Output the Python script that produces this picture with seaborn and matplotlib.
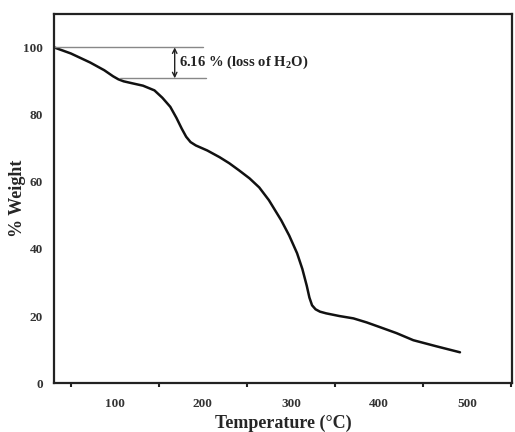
import matplotlib
matplotlib.use("Agg")
import matplotlib.pyplot as plt
import seaborn as sns
import pandas as pd
from matplotlib.ticker import MultipleLocator

temperature = [31, 50, 72, 88, 98, 104, 110, 120, 132, 145, 154, 163, 170, 176, 181, 186, 192, 205, 219, 230, 241, 253, 264, 275, 289, 298, 307, 313, 318, 321, 324, 328, 333, 340, 355, 371, 386, 401, 420, 439, 465, 492]
weight = [100, 98.2, 95.5, 93.2, 91.4, 90.5, 89.9, 89.3, 88.6, 87.2, 85.0, 82.3, 79.0, 75.8, 73.4, 71.8, 70.8, 69.3, 67.3, 65.5, 63.4, 61.0, 58.3, 54.5, 48.5, 44.0, 38.7, 34.0, 29.0, 25.5, 23.2, 22.0, 21.3, 20.8, 20.0, 19.3, 18.1, 16.7, 14.9, 12.8, 11.0, 9.2]

loss_label = "6.16 % (loss of H$_\\mathbf{2}$O)"
x_ticks = [100, 200, 300, 400, 500]
y_ticks = [0, 20, 40, 60, 80, 100]

df = pd.DataFrame({"Temperature": temperature, "Weight": weight})

sns.set_style("white")
plt.rcParams["font.family"] = ["Liberation Serif", "DejaVu Serif"]
plt.rcParams["mathtext.fontset"] = "custom"
plt.rcParams["mathtext.rm"] = "Liberation Serif"
plt.rcParams["mathtext.bf"] = "Liberation Serif:bold"

fig = plt.figure(figsize=(5.15, 4.32), dpi=100)
ax = fig.add_axes([0.105, 0.113, 0.889, 0.855])

sns.lineplot(data=df, x="Temperature", y="Weight", ax=ax, color="#111111", linewidth=1.8)

ax.set_xlim(31, 551)
ax.set_ylim(0, 110)
ax.set_xticks(x_ticks)
ax.set_yticks(y_ticks)
ax.xaxis.set_minor_locator(MultipleLocator(50))
ax.tick_params(axis="x", which="major", direction="out", length=5, width=1.5, color="#222222", labelsize=9.5, pad=6)
ax.tick_params(axis="x", which="minor", direction="out", length=3, width=1.5, color="#222222", bottom=True)
ax.tick_params(axis="y", which="both", length=0, labelsize=9.5, pad=8)
for lab in ax.get_xticklabels() + ax.get_yticklabels():
    lab.set_fontweight("bold")
    lab.set_color("#333333")

for s in ax.spines.values():
    s.set_linewidth(1.6)
    s.set_color("#222222")

ax.set_xlabel("Temperature (°C)", fontsize=13, fontweight="bold", labelpad=3)
ax.set_ylabel("% Weight", fontsize=13, fontweight="bold")
ax.yaxis.set_label_coords(-0.061, 0.5)

# annotation lines
ax.plot([31, 200], [100, 100], color="#888888", linewidth=1.0)
ax.plot([106, 204], [90.8, 90.8], color="#888888", linewidth=1.0)
ax.annotate("", xy=(168, 90.8), xytext=(168, 100),
            arrowprops=dict(arrowstyle="<->", color="#222222", lw=1.0, shrinkA=0, shrinkB=0, mutation_scale=8))
ax.text(173, 95.6, loss_label, fontsize=10.5, fontweight="bold", va="center", ha="left", color="#222222")

fig.savefig("out.png", dpi=100)
